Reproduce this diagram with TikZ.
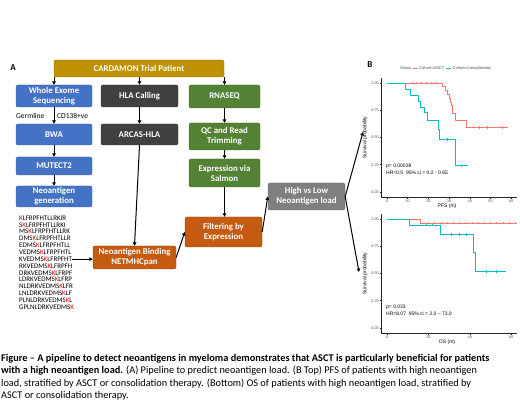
\documentclass[tikz,border=0pt]{standalone}
\usepackage{fontspec}
\setmainfont{Carlito}
\newfontfamily\plotfont{Liberation Sans}
\usetikzlibrary{positioning, arrows.meta}

\definecolor{cardgold}{RGB}{191,144,0}
\definecolor{wesblue}{RGB}{68,114,196}
\definecolor{hladark}{RGB}{64,64,64}
\definecolor{rnagreen}{RGB}{84,130,53}
\definecolor{bindorange}{RGB}{197,90,17}
\definecolor{loadgray}{RGB}{127,127,127}
\definecolor{asctred}{RGB}{248,118,109}
\definecolor{consteal}{RGB}{0,191,196}
\definecolor{pepred}{RGB}{228,0,0}

\tikzset{
	every box/.style={rectangle, rounded corners=2pt, text=white, align=center, inner sep=1pt,
		line width=0.4pt, font=\fontsize{8.8}{10}\selectfont\bfseries},
	box gold/.style={fill=cardgold, draw=cardgold!80!black},
	box blue/.style={fill=wesblue, draw=wesblue!80!black},
	box dark/.style={fill=hladark, draw=hladark!80!black},
	box green/.style={fill=rnagreen, draw=rnagreen!80!black},
	box orange/.style={fill=bindorange, draw=bindorange!80!black},
	box gray/.style={fill=loadgray, draw=loadgray!80!black},
	flow arrow/.style={->, line width=1pt},
	peptide/.style={anchor=west, inner sep=0pt, font=\fontsize{7}{7}\selectfont},
	side label/.style={anchor=west, inner sep=0pt, font=\fontsize{7.5}{8}\selectfont},
	axis line/.style={line width=0.5pt, black!85},
	tick label/.style={inner sep=0.8pt, text=black!70, font=\plotfont\fontsize{3.8}{4}\selectfont},
	axis title/.style={inner sep=0pt, font=\plotfont\fontsize{5}{5}\selectfont},
	legend text/.style={inner sep=0pt, text=black!70, font=\plotfont\fontsize{4}{4}\selectfont},
	stat text/.style={anchor=west, inner sep=0pt, font=\plotfont\fontsize{5}{5}\selectfont},
	asct curve/.style={asctred, line width=0.9pt},
	cons curve/.style={consteal, line width=0.9pt},
	caption/.style={anchor=base west, inner sep=0pt, font=\fontsize{10.3}{12}\selectfont}
}

\begin{document}
\begin{tikzpicture}[x=1pt, y=-1pt, >={Triangle[length=3.5pt, width=3.5pt]}]

	\fill[white] (0,0) rectangle (520,403);
	\useasboundingbox (0,0) rectangle (520,403);

	% panel A: pipeline
	\node[font=\fontsize{9}{9}\selectfont\bfseries] (label-a) at (13,68) {A};

	\node[every box, box gold, minimum width=170pt, minimum height=17pt] (patient) at (139,68.5) {CARDAMON Trial Patient};

	\node[every box, box blue, minimum width=76pt, minimum height=22pt] (wes) at (54,96) {Whole Exome\\Sequencing};
	\node[every box, box blue, minimum width=76pt, minimum height=21pt] (bwa) at (54,134.5) {BWA};
	\node[every box, box blue, minimum width=76pt, minimum height=18pt] (mutect) at (54,166) {MUTECT2};
	\node[every box, box blue, minimum width=76pt, minimum height=21pt] (neogen) at (54,196.5) {Neoantigen\\generation};

	\node[every box, box dark, minimum width=77pt, minimum height=22pt] (hla) at (139.5,96) {HLA Calling};
	\node[every box, box dark, minimum width=77pt, minimum height=21pt] (arcas) at (139.5,134.5) {ARCAS-HLA};

	\node[every box, box green, minimum width=71pt, minimum height=23pt] (rnaseq) at (224.5,96.5) {RNASEQ};
	\node[every box, box green, minimum width=71pt, minimum height=27pt] (qc) at (224.5,136.5) {QC and Read\\Trimming};
	\node[every box, box green, minimum width=71pt, minimum height=28pt] (salmon) at (224.5,173) {Expression via\\Salmon};

	\node[every box, box orange, minimum width=83pt, minimum height=23pt] (binding) at (134.5,257.5) {Neoantigen Binding\\NETMHCpan};
	\node[every box, box orange, minimum width=77pt, minimum height=30pt] (filter) at (223.5,232) {Filtering by\\Expression};
	\node[every box, box gray, minimum width=77pt, minimum height=27pt] (highlow) at (306.5,196.5) {High vs Low\\Neoantigen load};

	\foreach \a/\b [count=\i] in {{}/LFRPFHTLLRKIR, S/LFRPFHTLLRKI, MS/LFRPFHTLLRK, DMS/LFRPFHTLLR,
			EDMS/LFRPFHTLL, VEDMS/LFRPFHTL, KVEDMS/LFRPFHT, RKVEDMS/LFRPFH, DRKVEDMS/LFRPF,
			LDRKVEDMS/LFRP, NLDRKVEDMS/LFR, LNLDRKVEDMS/LF, PLNLDRKVEDMS/L, GPLNLDRKVEDMS/{}}
		\node[peptide] (pep-\i) at (19, 211.15 + 6.85*\i) {\a\textcolor{pepred}{K}\b};

	\node[side label] (germline) at (16,116) {Germline};
	\node[side label] (cd138) at (57,116) {CD138+ve};

	\foreach \n in {wes, hla, rnaseq}
		\draw[flow arrow] (patient.south -| \n) -- (\n);

	\draw[flow arrow] (wes) -- (bwa);
	\draw[flow arrow] (bwa) -- (mutect);
	\draw[flow arrow] (mutect) -- (neogen);
	\draw[flow arrow] (hla) -- (arcas);
	\draw[flow arrow] (arcas.south) -- (binding.north);
	\draw[flow arrow] (rnaseq) -- (qc);
	\draw[flow arrow] (qc) -- (salmon);
	\draw[flow arrow] (salmon.south) -- (salmon.south |- filter.north);
	\draw[flow arrow] (pep-7.east) -- (pep-7.east -| binding.west);
	\draw[flow arrow] (binding.east) -- (filter.west);
	\draw[flow arrow] (filter.east) -- (highlow.west);

	\coordinate (pfs-in) at (363,132);
	\coordinate (os-in) at (359,272);
	\draw[flow arrow] (highlow.east) -- (pfs-in);
	\draw[flow arrow] (highlow.east) -- (os-in);

	% panel B: survival curves
	\node[font=\fontsize{9}{9}\selectfont\bfseries] (label-b) at (370,65) {B};

	\foreach \plot/\yy/\title in {pfs/192/PFS (m), os/328/OS (m)} {
		\begin{scope}[shift={(387,\yy)}, x=2.07pt, y=109pt]
			\draw[axis line] (-3,1.05) -- (-3,-0.05) -- (63,-0.05);
			\foreach \s/\l [count=\k] in {0/0.00, 0.25/0.25, 0.5/0.50, 0.75/0.75, 1/1.00} {
				\draw[axis line] (-3,\s) -- ++(-1.2pt,0);
				\node[tick label, left] (\plot-y-\k) at (-3.5,\s) {\l};
			}
			\node[axis title, rotate=90] (\plot-ylab) at (-10.6,0.5) {Survival probability};
			\node[axis title] (\plot-xlab) at (29,-0.13) {\title};
		\end{scope}
	}

	% PFS
	\begin{scope}[shift={(387,192)}, x=2.07pt, y=109pt]
		\foreach \m in {0,10,...,60} {
			\draw[axis line] (\m,-0.05) -- ++(0,-1.2pt);
			\node[tick label, below] (pfs-x-\m) at (\m,-0.06) {\m};
		}
		\node[legend text, anchor=west] (leg-strata) at (6.3,1.138) {Strata};
		\node[legend text, right=8pt of leg-strata] (leg-asct) {Cohort=ASCT};
		\node[legend text, right=8pt of leg-asct] (leg-cons) {Cohort=Consolidation};
		\draw[asct curve] ([xshift=1.5pt]leg-strata.east) -- ([xshift=-1.5pt]leg-asct.west);
		\draw[cons curve] ([xshift=1.5pt]leg-asct.east) -- ([xshift=-1.5pt]leg-cons.west);

		\draw[asct curve] (0,1) -| (26.9,0.965) -| (28.1,0.93) -| (29.1,0.895) -| (30,0.86) -| (30.5,0.82)
			-| (31,0.79) -| (31.6,0.72) -| (32.9,0.655) -| (38.5,0.594) -- (58.6,0.594);
		\foreach \m/\s in {12/1, 14.3/1, 16.7/1, 19.1/1, 21.5/1, 23.9/1, 44.6/0.594, 48.5/0.594, 55.6/0.594}
			\draw[asct curve, line width=0.5pt] (\m,\s) +(0,-1.3pt) -- +(0,1.3pt);
		\draw[cons curve] (0,1) -| (8.7,0.945) -| (11.4,0.883) -| (15.1,0.83) -| (16.3,0.78) -| (17.9,0.73)
			-| (19.5,0.66) -| (24.8,0.57) -| (25.3,0.48) -| (33.3,0.24) -- (39.3,0.24);
		\foreach \m/\s in {29/0.48, 36/0.24}
			\draw[cons curve, line width=0.5pt] (\m,\s) +(0,-1.3pt) -- +(0,1.3pt);

		\node[stat text] (pfs-p) at (-0.5,0.238) {p= 0.00039};
		\node[stat text] (pfs-hr) at (-0.5,0.174) {HR=0.5\ \ 95\% ci = 0.2 - 0.65};
	\end{scope}

	% OS
	\begin{scope}[shift={(387,328)}, x=2.07pt, y=109pt]
		\foreach \m in {0,20,...,60} {
			\draw[axis line] (\m,-0.05) -- ++(0,-1.2pt);
			\node[tick label, below] (os-x-\m) at (\m,-0.06) {\m};
		}
		\draw[asct curve] (0,1) -| (16.3,0.963) -- (62.6,0.963);
		\foreach \m in {20,23,...,62}
			\draw[asct curve, line width=0.5pt] (\m,0.963) +(0,-1.3pt) -- +(0,1.3pt);
		\draw[cons curve] (0,1) -| (10.8,0.945) -| (25.9,0.86) -| (41.7,0.69) -| (42.5,0.52) -- (57.5,0.52);
		\foreach \m/\s in {19/0.945, 22/0.945, 31/0.86, 35/0.86, 38.5/0.86, 48/0.52, 53/0.52}
			\draw[cons curve, line width=0.5pt] (\m,\s) +(0,-1.3pt) -- +(0,1.3pt);

		\node[stat text] (os-p) at (-0.5,0.193) {p= 0.033};
		\node[stat text] (os-hr) at (-0.5,0.128) {HR=8.07\ \ 95\% ci = 2.0 – 73.0};
	\end{scope}

	% caption
	\node[caption] (cap-1) at (1,361.5) {\bfseries Figure – A pipeline to detect neoantigens in myeloma demonstrates that ASCT is particularly beneficial for patients};
	\node[caption] (cap-2) at (1,373.8) {{\bfseries with a high neoantigen load.} (A) Pipeline to predict neoantigen load. (B Top) PFS of patients with high neoantigen};
	\node[caption] (cap-3) at (1,386.1) {load, stratified by ASCT or consolidation therapy. (Bottom) OS of patients with high neoantigen load, stratified by};
	\node[caption] (cap-4) at (1,398.4) {ASCT or consolidation therapy.};

\end{tikzpicture}
\end{document}
